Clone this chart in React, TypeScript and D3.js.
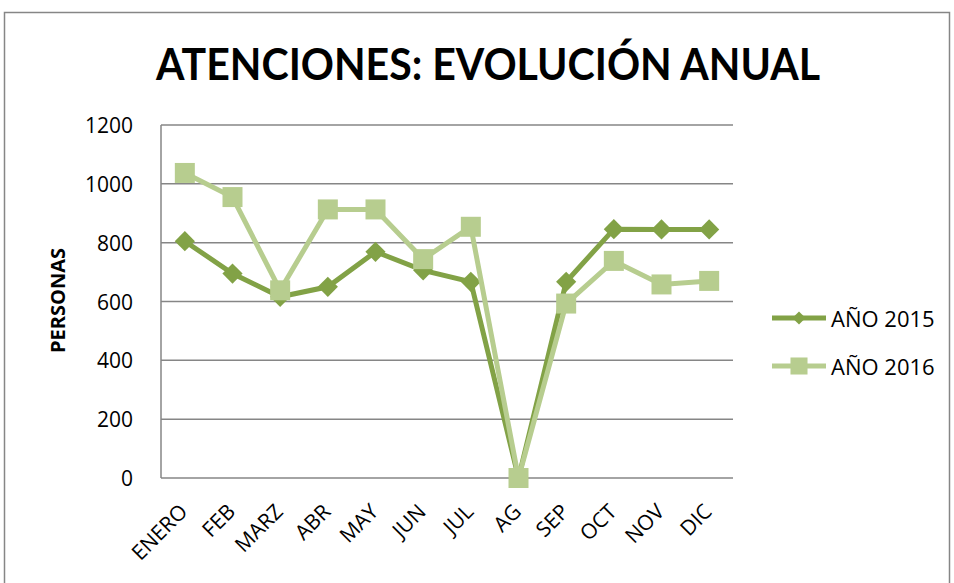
import React from 'react';
import * as d3 from 'd3';

const months = ['ENERO', 'FEB', 'MARZ', 'ABR', 'MAY', 'JUN', 'JUL', 'AG', 'SEP', 'OCT', 'NOV', 'DIC'];
const values2015 = [805, 695, 616, 650, 769, 706, 667, 0, 667, 846, 845, 845];
const values2016 = [1037, 955, 638, 913, 913, 744, 854, 0, 593, 738, 658, 670];
const yTicks = [0, 200, 400, 600, 800, 1000, 1200];
const seriesNames = ['AÑO 2015', 'AÑO 2016'];

const colorScale = d3.scaleOrdinal<string, string>().domain(seriesNames).range(['#82a246', '#b7cd8f']);

const width = 954;
const height = 583;
const plot = { left: 161, right: 733, top: 125, bottom: 478 };
const titleFont = 'Lato, sans-serif';
const font = '"Open Sans", sans-serif';

const App = () => {
  const x = d3.scaleBand().domain(months).range([plot.left, plot.right]);
  const y = d3.scaleLinear().domain([0, 1200]).range([plot.bottom, plot.top]);
  const cx = (m: string) => x(m)! + x.bandwidth() / 2;

  const lineGen = d3
    .line<number>()
    .x((_, i) => cx(months[i]))
    .y((d) => y(d));

  const series = [
    { name: seriesNames[0], data: values2015, type: d3.symbolDiamond2, size: 260, legendSize: 110 },
    { name: seriesNames[1], data: values2016, type: d3.symbolSquare, size: 400, legendSize: 290 },
  ];

  return (
    <svg width={width} height={height} style={{ position: 'absolute', left: 0, top: 0, background: '#fff' }}>
      {/* chart frame */}
      <rect x={4.5} y={12.5} width={945} height={620} fill='#fff' stroke='#868686' strokeWidth={1.5} />

      <text
        x={488}
        y={80}
        textAnchor='middle'
        fontFamily={titleFont}
        fontWeight='bold'
        fontSize={43}
        textLength={664}
        lengthAdjust='spacingAndGlyphs'
      >
        ATENCIONES: EVOLUCIÓN ANUAL
      </text>

      {/* grid + y ticks */}
      {yTicks.map((t) => (
        <g key={t}>
          <line x1={plot.left} x2={plot.right} y1={y(t)} y2={y(t)} stroke='#868686' strokeWidth={1.5} />
          <text x={133} y={y(t) + 8} textAnchor='end' fontFamily={font} fontSize={21} fill='#000'>
            {t}
          </text>
        </g>
      ))}
      <line x1={plot.left} x2={plot.left} y1={plot.top} y2={plot.bottom} stroke='#868686' strokeWidth={1.5} />

      <text
        transform={`translate(65, ${(plot.top + plot.bottom) / 2 - 1}) rotate(-90)`}
        textAnchor='middle'
        fontFamily={font}
        fontWeight='bold'
        fontSize={20}
      >
        PERSONAS
      </text>

      {months.map((m) => (
        <text
          key={m}
          transform={`translate(${cx(m) + 4}, ${plot.bottom + 35}) rotate(-45)`}
          textAnchor='end'
          fontFamily={font}
          fontSize={21}
        >
          {m}
        </text>
      ))}

      {series.map((s) => {
        const marker = d3.symbol().type(s.type).size(s.size)()!;
        return (
          <g key={s.name}>
            <path d={lineGen(s.data)!} fill='none' stroke={colorScale(s.name)} strokeWidth={5} />
            {s.data.map((v, i) => (
              <path key={i} d={marker} transform={`translate(${cx(months[i])}, ${y(v)})`} fill={colorScale(s.name)} />
            ))}
          </g>
        );
      })}

      {/* legend */}
      {series.map((s, i) => {
        const ly = 318 + i * 48;
        const marker = d3.symbol().type(s.type).size(s.legendSize)()!;
        return (
          <g key={s.name}>
            <line x1={772} x2={826} y1={ly} y2={ly} stroke={colorScale(s.name)} strokeWidth={5} />
            <path d={marker} transform={`translate(799, ${ly})`} fill={colorScale(s.name)} />
            <text x={831} y={ly + 9} fontFamily={font} fontSize={22}>
              {s.name}
            </text>
          </g>
        );
      })}
    </svg>
  );
};

export default App;
